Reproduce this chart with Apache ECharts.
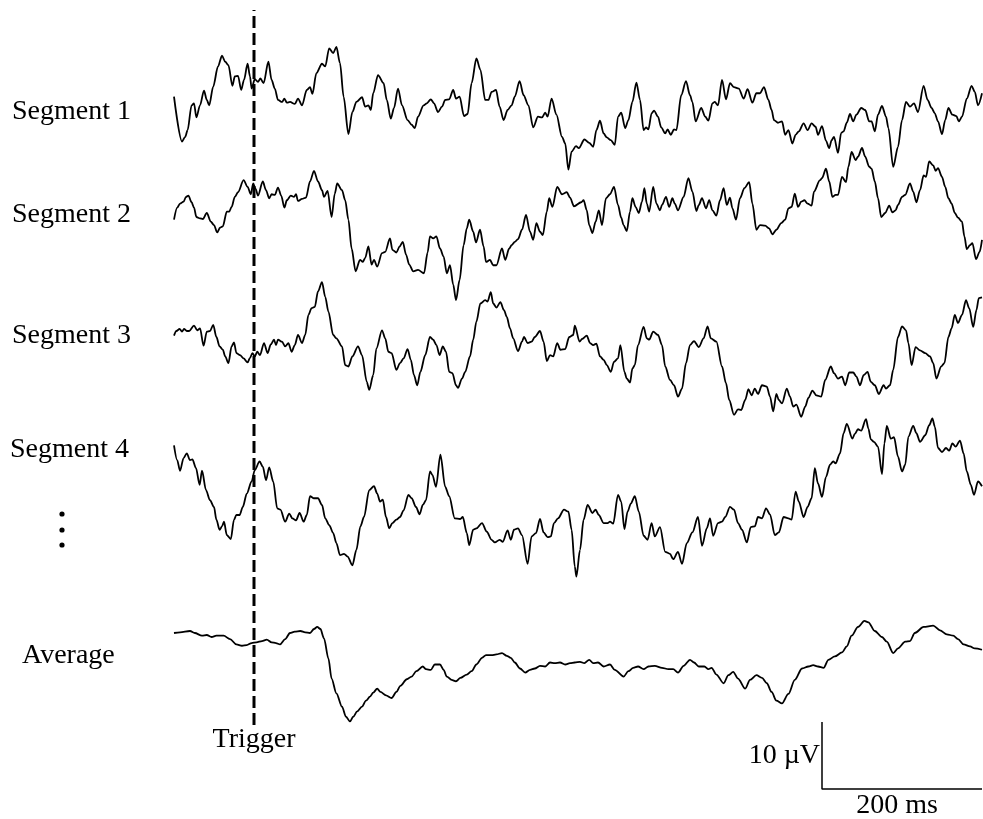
<!DOCTYPE html>
<html>
<head>
<meta charset="utf-8">
<script src="https://cdn.jsdelivr.net/npm/echarts@6/dist/echarts.min.js"></script>
<style>
  html, body { margin: 0; padding: 0; background: #fff; }
  #chart { width: 983px; height: 819px; }
</style>
</head>
<body>
<div id="chart"></div>
<script>
// EEG epochs time-locked to a trigger, plus their average.
// Each trace: [time in ms relative to trigger, amplitude in µV]

const traceLabels = ['Segment 1', 'Segment 2', 'Segment 3', 'Segment 4', 'Average'];

const segment1 = [
[-100,2.0],[-90,-4.7],[-86,-4.0],[-83,-3.0],[-78,0.7],[-75,1.0],[-72,-1.1],[-67.5,0.7],[-62.5,2.9],[-59,1.5],[-56,0.7],[-51,3.5],[-45,6.5],[-40,8.1],[-36,7.2],[-32,6.7],[-27,3.6],[-24,5.0],[-20,5.1],[-16,3.0],[-12.5,4.5],[-8,6.9],[-5,5.0],[-3,3.2],[1,4.6],[5,4.2],[8,4.7],[12,4.0],[18,7.2],[22,4.5],[26,3.2],[30,1.5],[35,1.2],[38,1.7],[41,1.1],[45,1.2],[51,0.9],[55,1.7],[60,0.7],[66,3.0],[70,3.4],[73,2.4],[78,5.5],[85,6.9],[89,6.5],[94,9.2],[99,8.5],[103,9.4],[107.5,7.0],[112,2.0],[118,-3.6],[123,-0.3],[128,1.2],[135,1.9],[139,0.5],[143,0.7],[146,0],[149,2.5],[155,5.2],[162,4.0],[166,1.5],[171,-1.3],[175,0.3],[180,3.2],[185,0.7],[192,-1.5],[197,-2.2],[201,-2.7],[205,-1.0],[212,0.7],[216,1.0],[221,1.6],[225,1.0],[230,-0.3],[235,0.5],[239,1.5],[244,1.6],[249,3.0],[252.5,1.7],[257,2.0],[262.5,-0.9],[267,-0.6],[272,4.0],[278,7.7],[283,6.0],[289,1.5],[293,1.5],[297,2.7],[302.5,3.0],[307,0.5],[312,-1.5],[317,0],[322,0.7],[326,2.0],[332,4.3],[337,2.2],[343,0.7],[349,-2.6],[355,-1.0],[360,-1.1],[364,-0.4],[367,-1.0],[372,1.7],[378,-0.7],[385,-4.0],[389,-5.0],[393,-8.9],[397,-6.2],[402.5,-5.4],[406,-5.7],[413,-4.4],[419,-4.9],[424,-5.5],[428,-3.0],[432.5,-1.6],[437,-3.5],[441,-4.1],[446,-4.5],[451,-5.2],[455,-1.0],[459,-0.4],[464,-2.7],[468,-1.5],[473,1.2],[478,4.1],[482.5,1.5],[487,-3.0],[490,-2.6],[493,-2.9],[497,-0.5],[500,-0.1],[505,-1.0],[509,-2.6],[514,-3.5],[517,-2.9],[521,-3.7],[525,-2.9],[528,-3.0],[534,2.2],[540,4.3],[545,2.2],[548,1.2],[552,-1.7],[559,0.3],[564,-1.0],[568,-1.6],[573,1.0],[576,1.2],[580,0.7],[585,4.5],[590,1.6],[595,4.0],[600,3.4],[606,3.2],[612,1.7],[617,3.1],[623,1.1],[628,2.5],[632.5,2.5],[637.5,3.4],[643,1.5],[647,0],[650,-1.5],[655,-1.9],[660,-1.7],[664,-3.7],[668,-3.0],[673,-5.0],[677,-3.7],[681,-3.2],[687,-2.0],[692,-3.0],[697,-2.0],[702,-2.5],[705,-3.7],[710,-2.4],[715,-4.6],[719,-5.7],[722,-4.5],[725,-4.0],[730,-6.4],[734,-3.4],[737,-3.2],[741,-1.9],[745,-0.6],[749,-1.7],[753,-0.7],[759,0.3],[764,0],[769,-1.7],[772,-1.7],[776,-3.2],[780,-0.7],[785,0.6],[790,-1.0],[793,-2.7],[799,-8.5],[805,-5.5],[810,-1.5],[815,1.2],[820,0.5],[825,1.0],[830,-0.3],[837,3.6],[842,1.5],[847,0.3],[851,-0.5],[855,-1.7],[860,-3.6],[864,-1.5],[868,0.3],[873,-0.7],[878,-0.9],[881,-1.7],[885,-1.0],[891,1.7],[897,3.6],[901,2.7],[905,0.7],[910,2.5]
];

const segment2 = [
[-100,-0.7],[-96,1.1],[-92.5,1.7],[-88,2.0],[-85,2.7],[-82,2.9],[-78,1.9],[-75,1.1],[-72,-0.3],[-67.5,-0.5],[-64,-0.6],[-59,0.3],[-54,-1.0],[-50,-1.5],[-46,-2.6],[-42.5,-1.9],[-39,-1.7],[-34,0.5],[-31,0.5],[-28,1.2],[-24,2.7],[-20,3.4],[-13,5.2],[-8,4.2],[-4,3.1],[-1,4.7],[2,3.9],[5,2.9],[11,5.0],[15,3.7],[19,2.5],[22,3.1],[26,3.0],[30,4.1],[34,2.9],[38,1.1],[41,2.2],[46,2.9],[50,2.7],[52.5,3.1],[55,2.1],[60,2.4],[65,2.6],[70,5.0],[75,6.6],[80,5.0],[85,3.7],[87.5,2.7],[92,3.6],[97,-0.3],[101,3.2],[104,4.7],[110,3.7],[114,2.2],[118,-0.7],[122,-5.0],[127,-8.4],[132.5,-6.7],[136,-7.0],[139,-6.4],[143,-4.7],[147,-7.4],[150,-6.7],[154,-7.7],[160,-5.7],[164,-5.5],[170,-3.5],[173,-5.2],[178,-5.6],[182,-4.7],[186,-4.0],[190,-5.9],[194,-7.4],[199,-8.4],[205,-8.2],[212.5,-8.7],[217,-5.6],[220,-3.2],[224,-3.5],[228,-3.2],[232.5,-5.0],[237,-6.2],[241,-8.7],[245,-7.5],[249,-10.4],[252.5,-12.7],[257,-9.7],[262,-4.5],[266,-2.0],[269,-0.7],[274,-2.5],[277.5,-4.1],[282.5,-2.2],[287,-4.7],[290,-7.0],[295,-6.7],[299,-7.5],[303,-7.5],[310,-5.0],[314,-6.7],[319,-5.0],[322,-4.5],[326,-4.0],[330,-3.6],[335,-2.2],[340,0],[345,-2.5],[349,-3.7],[353,-1.2],[357.5,-2.5],[361,-3.0],[366,0.5],[369,2.5],[373,1.2],[379,4.2],[385,3.1],[391,3.4],[395,2.6],[400,1.3],[409,1.9],[412,2.2],[416,0.7],[419,-1.5],[423,-2.7],[427,-1.0],[431,0.7],[435,-1.5],[440,2.5],[445,3.1],[450,4.2],[455,1.5],[459,-0.4],[462,-1.5],[466,-2.4],[470,0.5],[473,2.5],[477,1.2],[481,0.3],[485,2.0],[488,4.0],[491,1.7],[494,0.5],[499,4.2],[503,1.7],[507.5,0.7],[510,1.5],[515,2.7],[519,1.2],[523,2.5],[526,1.7],[530,0.7],[537,2.7],[543,5.5],[548,3.5],[553,0.6],[556,1.5],[560,2.5],[565,1.0],[569,2.2],[573,0.7],[578,-0.1],[582.5,2.2],[587,4.0],[591,1.5],[595,2.6],[598,1.0],[602.5,-0.7],[607.5,2.5],[613,4.0],[619,4.9],[623,1.7],[628,-2.2],[632.5,-1.5],[639,-1.6],[644,-2.0],[648,-2.9],[653,-2.2],[659,-1.2],[664,-0.7],[668,1.0],[672,1.2],[676,3.2],[680,1.2],[684,2.0],[688,2.2],[692,1.7],[697,1.4],[700,3.5],[707.5,5.2],[710,5.5],[715,6.9],[719,5.0],[723,2.7],[727,3.0],[730,3.0],[735,5.7],[740,4.9],[743,7.2],[747,9.4],[752,8.2],[755,8.7],[760,10.0],[764,8.7],[769,7.2],[772,6.9],[776,5.0],[780,2.5],[784,-0.3],[789,0.3],[794,1.4],[798,0.4],[802,0.7],[805,1.5],[810,2.7],[814,3.0],[820,4.7],[824,3.5],[828,1.9],[832.5,3.7],[837,5.9],[840,5.7],[844,8.0],[849,7.4],[852,6.6],[855,7.0],[860,5.7],[864,4.2],[868,2.5],[872,1.7],[876,0.3],[880,-0.4],[885,-1.0],[888,-3.2],[891,-5.1],[895,-4.5],[898,-4.2],[902.5,-6.6],[907,-5.5],[910,-3.7]
];

const segment3 = [
[-100,-0.1],[-97,0.6],[-93,0.9],[-90,0.5],[-87.5,0.9],[-84,0.6],[-81,0.6],[-75,1.4],[-71,0.7],[-67.5,1.0],[-63,-1.6],[-59,0.5],[-55,0.6],[-51,1.5],[-47,-0.3],[-43,-1.7],[-39,-2.2],[-36,-3.2],[-32,-4.2],[-28,-1.7],[-25,-1.1],[-22,-2.7],[-17.5,-3.0],[-13,-3.5],[-8,-4.1],[-5,-3.4],[-2,-2.7],[1,-3.2],[4,-2.5],[7.5,-3.0],[12.5,-1.2],[17,-2.7],[21,-1.4],[25,-0.7],[27.5,-1.5],[30,-0.7],[35,-1.0],[39,-1.7],[43,-1.2],[47,-2.5],[51,-1.5],[55,0],[60,-1.2],[64,0],[68,3.0],[72,4.0],[76,4.2],[80,6.5],[85,7.9],[89,5.7],[93,3.5],[99,0],[103,-0.5],[110,-1.7],[114,-4.5],[118,-4.7],[123,-3.2],[130,-1.7],[135,-3.0],[141,-7.0],[144,-8.2],[149,-6.0],[153,-2.0],[160,0.7],[164,-0.5],[168,-2.5],[172,-2.7],[178,-5.2],[182.5,-4.2],[187,-3.5],[192,-2.1],[196,-3.7],[200,-6.0],[204,-7.5],[208,-5.5],[214,-3.0],[220,-0.3],[224,-0.7],[228,-1.5],[232,-3.0],[236,-1.7],[240,-2.5],[244,-5.5],[248,-5.7],[252.5,-7.5],[255,-7.9],[260,-6.5],[264,-5.5],[270,-3.2],[274,-0.7],[278,2.0],[283,4.7],[289,5.2],[292,5.0],[296,6.4],[299,4.7],[303,4.1],[308,4.9],[312.5,3.7],[316,2.7],[320,1.0],[324,-0.5],[330,-2.4],[335,-1.0],[337.5,-0.3],[342,-1.2],[347,-1.0],[351,-0.3],[357.5,0.6],[362,-1.0],[366,-3.9],[370,-3.0],[374,-3.2],[379,-1.2],[383,-2.2],[389,-2.1],[394,-0.3],[399,0],[401,1.4],[407,-1.0],[410,-0.6],[416,-0.1],[420,-1.2],[424,-1.5],[428,-1.3],[432.5,-3.2],[437,-3.7],[441,-4.5],[446,-5.5],[450,-4.0],[455,-3.5],[458,-1.5],[463,-5.5],[466,-6.5],[470,-7.1],[473,-5.0],[476,-4.5],[480,-1.5],[487,1.2],[491,-0.5],[494,-0.7],[499,0.5],[505,0],[510,-1.5],[514,-4.7],[520,-6.7],[525,-7.5],[530,-9.2],[535,-8.0],[540,-4.2],[545,-1.5],[550,-0.9],[556,-1.8],[562,-0.5],[567,1.3],[571,-0.5],[578,-1.0],[585,-4.7],[590,-7.2],[594,-9.7],[600,-11.9],[605,-11.1],[609,-11.2],[614,-9.7],[618,-8.1],[622,-9.0],[626,-8.0],[630,-8.8],[635,-7.5],[641,-7.7],[645,-9.2],[649,-11.4],[653,-8.8],[656,-9.7],[660,-10.2],[666,-8.0],[670,-9.2],[674,-10.7],[678,-10.4],[684,-12.2],[689,-10.7],[693,-9.4],[698,-8.3],[703,-9.0],[709,-9.2],[714,-6.7],[721,-4.7],[725,-5.7],[730,-6.5],[735,-6.2],[739,-7.5],[744,-5.6],[749,-5.6],[753,-6.2],[757.5,-7.5],[762,-6.0],[767,-5.5],[771,-7.0],[776,-7.5],[781,-8.8],[787,-7.5],[790,-8.0],[795,-7.5],[799,-5.2],[805,-0.3],[810,1.3],[815,0.7],[818,-1.2],[822,-4.5],[827,-1.8],[832.5,-2.3],[839,-2.7],[845,-3.2],[849,-4.2],[853,-6.5],[859,-4.7],[863,-4.2],[868,-0.3],[872,1.0],[876,3.0],[880,1.8],[885,3.0],[890,5.2],[894,4.0],[899,1.2],[903,3.7],[906,5.5],[910,5.6]
];

const segment4 = [
[-100,0.7],[-96,-1.5],[-92.5,-3.1],[-88,-1.2],[-84,-0.5],[-80,-1.5],[-77,-1.4],[-72.5,-2.7],[-68,-5.2],[-65,-3.1],[-60,-6.0],[-55,-7.5],[-50,-8.5],[-47,-10.4],[-43,-11.9],[-40,-11.4],[-37.5,-10.7],[-34,-12.7],[-29,-13.3],[-25,-10.4],[-22,-9.7],[-18,-9.7],[-14,-8.5],[-9,-6.5],[-3,-4.7],[1,-3.0],[7,-1.7],[11,-2.5],[15,-4.5],[19,-2.6],[24,-4.7],[29,-8.7],[33,-8.9],[39,-10.7],[44,-9.5],[48,-10.2],[52.5,-10.5],[57,-9.4],[62,-10.7],[66,-9.7],[70,-6.9],[75,-7.2],[80,-7.2],[85,-8.2],[89,-10.2],[94,-11.2],[99,-12.4],[103,-13.9],[107.5,-15.7],[112.5,-15.5],[117,-15.9],[123,-17.2],[128,-14.9],[133,-11.4],[137.5,-10.0],[144,-6.0],[150,-5.4],[154,-6.5],[157.5,-7.7],[161,-7.4],[165,-10.0],[169,-11.7],[173,-10.9],[178,-10.4],[182.5,-10.0],[187,-9.0],[193,-6.7],[197,-7.2],[202.5,-8.5],[207,-9.6],[211,-8.2],[215,-7.5],[220,-3.2],[223,-3.7],[227.5,-5.5],[233,-0.7],[239,-5.5],[244,-6.9],[251,-10.2],[257.5,-10.3],[261,-10.0],[266,-12.4],[269,-14.2],[274,-11.9],[278,-11.7],[285,-10.9],[291,-12.2],[297,-13.4],[301,-13.8],[307,-13.4],[311,-13.7],[317,-12.0],[321,-13.4],[325,-11.9],[330,-11.7],[335,-12.7],[342,-17.0],[347,-12.9],[352.5,-12.4],[357.5,-10.3],[362,-12.3],[367,-13.0],[371,-12.9],[375,-10.9],[380,-10.2],[387.5,-8.9],[393,-9.2],[397,-11.9],[401,-17.4],[403,-18.9],[407.5,-14.9],[412,-10.4],[417,-8.2],[423,-9.4],[427,-8.9],[431,-9.7],[437,-10.9],[442,-10.9],[445,-10.7],[449,-11.0],[455,-6.7],[459,-7.7],[463,-11.8],[467,-9.2],[471,-8.0],[476,-6.9],[481,-9.2],[487,-12.8],[492,-13.4],[497,-10.9],[501,-12.9],[507.5,-11.5],[514,-15.2],[520,-15.5],[524,-16.3],[530,-15.2],[535,-17.0],[541,-13.9],[548,-12.3],[555,-10.0],[560,-14.3],[566,-11.7],[570,-10.2],[574,-12.8],[580,-10.9],[585,-10.7],[589,-10.0],[595,-8.5],[600,-8.9],[605,-10.9],[610,-11.9],[616,-13.8],[621,-11.5],[626,-11.4],[630,-10.0],[635,-10.2],[640,-8.7],[645,-9.6],[651,-12.7],[656,-12.3],[662,-10.0],[668,-10.2],[672,-10.4],[677,-6.2],[681,-7.7],[687,-10.0],[692,-8.5],[697,-7.2],[701,-2.7],[705,-5.0],[710,-7.0],[715,-4.0],[720,-2.2],[724,-1.7],[727,-2.0],[732.5,-0.5],[737,2.5],[741,3.9],[748,1.7],[751,2.4],[755,3.1],[759,2.9],[765,4.6],[768,3.2],[771,1.6],[775,1.2],[780,0.5],[785,-3.6],[788,1.0],[791,3.6],[796,1.7],[800,1.9],[805,-1.0],[810,-3.2],[814,-2.2],[818,2.0],[824,3.6],[828,2.5],[832.5,1.2],[839,2.2],[844,3.7],[848,4.7],[851,3.5],[855,0.3],[860,-0.3],[865,0.3],[869,-0.1],[873,1.0],[877,0.5],[882.5,1.4],[887,-0.5],[891,-3.2],[896,-5.2],[900,-6.7],[905,-4.7],[910,-5.4]
];

const average = [
[-100,0],[-92.5,0.1],[-80,0.3],[-74,0],[-65,-0.4],[-59,-0.3],[-53,-0.6],[-47,-0.4],[-38,-0.4],[-30,-0.9],[-22,-1.7],[-15,-1.9],[-9,-1.8],[-3,-1.5],[3,-1.4],[10,-1.2],[16,-1.0],[22,-1.4],[27.5,-1.5],[32.5,-1.7],[39,-0.9],[45,0],[51,0.2],[58,0.3],[64,0.1],[70,0],[75,0.6],[79,0.9],[83,0.6],[87.5,-0.8],[93,-3.8],[97,-6.8],[103,-9.0],[110,-11.0],[115,-12.5],[120,-13.2],[124,-12.5],[129,-11.7],[135,-11.0],[140,-10.1],[145,-9.5],[149,-8.9],[154,-8.3],[158,-8.8],[165,-9.3],[172,-9.7],[178,-8.8],[183,-7.9],[191,-6.9],[197,-6.5],[203,-5.7],[211,-5.0],[215,-5.4],[221,-5.5],[226,-4.7],[232.5,-4.7],[237,-5.5],[241,-6.5],[247,-7.0],[252.5,-7.2],[258,-6.7],[266,-6.2],[272,-5.7],[278,-4.7],[285,-3.7],[290,-3.3],[297,-3.3],[303,-3.2],[310,-3.0],[316,-3.4],[321,-3.7],[326,-4.4],[332.5,-5.3],[339,-5.9],[345,-5.5],[351,-5.3],[357.5,-4.9],[364,-5.0],[370,-4.4],[376,-4.5],[382.5,-4.4],[389,-4.7],[395,-4.5],[401,-4.4],[407.5,-4.3],[413,-4.5],[419,-4.0],[424,-4.5],[430,-4.4],[437,-5.0],[445,-4.7],[451,-5.5],[462,-6.5],[468,-5.7],[474,-5.2],[480,-5.0],[487,-5.4],[493,-5.0],[501,-4.9],[510,-5.2],[518,-5.4],[524,-5.4],[530,-5.9],[537,-4.9],[545,-4.0],[550,-4.4],[556,-5.0],[563,-5.0],[568,-5.4],[572,-5.2],[578,-6.2],[587,-7.5],[593,-6.3],[599,-5.8],[605,-6.8],[614,-8.3],[620,-7.0],[628,-6.3],[635,-6.7],[641,-7.5],[647,-8.8],[653,-10.1],[660,-10.5],[668,-9.1],[676,-7.0],[685,-5.3],[693,-5.0],[699,-4.8],[705,-5.0],[712,-5.2],[718,-4.0],[726,-3.5],[735,-2.9],[741,-2.0],[747,-0.4],[755,0.9],[763,1.8],[768,1.6],[776,0.3],[785,-0.6],[791,-1.3],[799,-3.0],[805,-2.3],[814,-1.3],[820,-1.2],[826,0],[837,0.9],[849,1.1],[857.5,0.4],[866,-0.2],[874,-0.4],[880,-0.9],[887,-1.7],[895,-2.0],[901,-2.3],[910,-2.5]
];

const traces = [segment1, segment2, segment3, segment4, average];

// time window of each epoch and the trigger instant (ms)
const T_START = -100;
const T_END = 910;
const TRIGGER_MS = 0;

// calibration bar
const SCALE_BAR_MS = 200;
const SCALE_BAR_UV = 10;

// ---- layout ----
const PLOT_LEFT = 174;
const PLOT_RIGHT = 1;
const PX_PER_UV = 6.7;
const UV_MIN = -20, UV_MAX = 12;
const traceBaselines = [110, 215, 335, 450, 633];
const labelPos = [[12, 112], [12, 215], [12, 336], [10, 450], [22, 656]];
const SERIF = '"Liberation Serif", "Times New Roman", Times, serif';
const FONT_SIZE = 28;

const grids = [], xAxes = [], yAxes = [], series = [];

function addGrid(top, height, yMin, yMax) {
  const idx = grids.length;
  grids.push({ left: PLOT_LEFT, right: PLOT_RIGHT, top: top, height: height });
  xAxes.push({ type: 'value', gridIndex: idx, min: T_START, max: T_END, show: false });
  yAxes.push({ type: 'value', gridIndex: idx, min: yMin, max: yMax, show: false });
  return idx;
}

traces.forEach((data, i) => {
  const idx = addGrid(traceBaselines[i] - UV_MAX * PX_PER_UV,
                      (UV_MAX - UV_MIN) * PX_PER_UV, UV_MIN, UV_MAX);
  series.push({
    name: traceLabels[i],
    type: 'line',
    xAxisIndex: idx, yAxisIndex: idx,
    data: data,
    symbol: 'none',
    smooth: 0.3,
    smoothMonotone: 'x',
    clip: false,
    lineStyle: { color: '#000', width: 1.8 },
    silent: true
  });
});

// dashed trigger marker spanning all traces
const trigIdx = addGrid(10, 715, 0, 1);
series.push({
  type: 'line',
  xAxisIndex: trigIdx, yAxisIndex: trigIdx,
  data: [[TRIGGER_MS, 0], [TRIGGER_MS, 1]],
  symbol: 'none',
  lineStyle: { color: '#000', width: 3, type: [12, 5] },
  silent: true
});

// calibration bar: 10 µV vertical, 200 ms horizontal
const barIdx = addGrid(722, SCALE_BAR_UV * PX_PER_UV, 0, SCALE_BAR_UV);
series.push({
  type: 'line',
  xAxisIndex: barIdx, yAxisIndex: barIdx,
  data: [[T_END - SCALE_BAR_MS, SCALE_BAR_UV], [T_END - SCALE_BAR_MS, 0], [T_END, 0]],
  symbol: 'none',
  clip: false,
  lineStyle: { color: '#000', width: 1.5 },
  silent: true
});

function txt(text, x, y, align) {
  return {
    type: 'text', x: x, y: y, silent: true,
    style: {
      text: text, fill: '#000',
      font: FONT_SIZE + 'px ' + SERIF,
      align: align, verticalAlign: 'middle',
      textAlign: align, textVerticalAlign: 'middle'
    }
  };
}

const graphics = traceLabels.map((t, i) => txt(t, labelPos[i][0], labelPos[i][1], 'left'));
graphics.push(txt('Trigger', 254, 740, 'center'));
graphics.push(txt('10 \u00B5V', 820, 756, 'right'));
graphics.push(txt(SCALE_BAR_MS + ' ms', 897, 806, 'center'));
// vertical ellipsis between the segments and the average
[514, 530, 545].forEach(y => {
  graphics.push({ type: 'circle', silent: true, shape: { cx: 62, cy: y, r: 2.6 }, style: { fill: '#000' } });
});

const chart = echarts.init(document.getElementById('chart'), null, { renderer: 'canvas' });
chart.setOption({
  animation: false,
  backgroundColor: '#fff',
  grid: grids,
  xAxis: xAxes,
  yAxis: yAxes,
  series: series,
  graphic: graphics
});
</script>
</body>
</html>
